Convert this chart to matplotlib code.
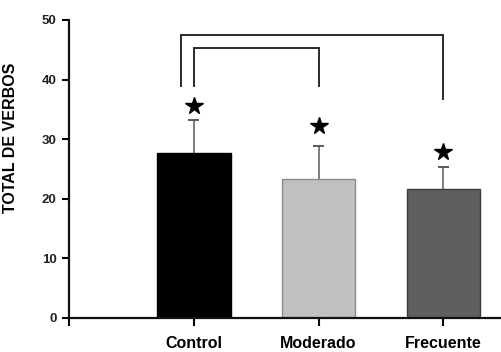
import numpy as np
import matplotlib
matplotlib.use("Agg")
import matplotlib.pyplot as plt

groups = ["Control", "Moderado", "Frecuente"]
means = [27.7, 23.3, 21.6]
errors = [5.5, 5.6, 3.7]
bar_colors = ["#000000", "#c0c0c0", "#5f5f5f"]
edge_colors = ["#000000", "#8a8a8a", "#3a3a3a"]
star_y = [35.6, 32.2, 27.8]
yticks = [0, 10, 20, 30, 40, 50]

# brackets: (x left, x right, y left leg end, y right leg end, y top)
brackets = [
    (0.9, 3.0, 38.9, 36.7, 47.5),
    (1.0, 2.0, 38.9, 38.9, 45.3),
]

plt.rcParams["font.family"] = ["Liberation Sans", "DejaVu Sans"]
plt.rcParams["font.weight"] = "bold"

fig = plt.figure(figsize=(5.02, 3.52), dpi=100)
ax = fig.add_axes([69/502, 34/352, 1 - 69/502, 298/352])

x = np.arange(1, len(groups) + 1)
tops = np.array(means) + np.array(errors)
ax.bar(x, means, width=0.59, color=bar_colors, edgecolor=edge_colors, linewidth=1.0, zorder=2)
# upper error bars only
ax.vlines(x, means, tops, color="#5a5a5a", linewidth=1.1, zorder=1)
ax.hlines(tops, x - 0.045, x + 0.045, color="#5a5a5a", linewidth=1.4, zorder=1)
ax.plot(x, star_y, linestyle="none", marker="*", markersize=13, color="black", zorder=3)

for xl, xr, yl, yr, yt in brackets:
    ax.plot([xl, xl, xr, xr], [yl, yt, yt, yr], color="#2a2a2a", linewidth=1.4,
            clip_on=False, solid_joinstyle="miter")

ax.set_xlim(0, 3.47)
ax.set_ylim(0, 50)
ax.set_yticks(yticks)
ax.set_xticks([0] + list(x))
ax.set_xticklabels([""] + groups, fontsize=11.5, fontweight="bold")
ax.tick_params(axis="x", length=6, width=1.5, pad=7)
ax.tick_params(axis="y", length=5, width=1.5, labelsize=9.5, pad=4)
for lbl in ax.get_yticklabels():
    lbl.set_fontweight("bold")
    lbl.set_color("#222222")
ax.set_ylabel("TOTAL DE VERBOS", fontsize=11.5, fontweight="bold")
ax.yaxis.set_label_coords(-51/433, 0.604)

for side in ["top", "right"]:
    ax.spines[side].set_visible(False)
for side in ["left", "bottom"]:
    ax.spines[side].set_linewidth(1.6)
    ax.spines[side].set_color("#111111")

fig.savefig("out.png", dpi=100)
